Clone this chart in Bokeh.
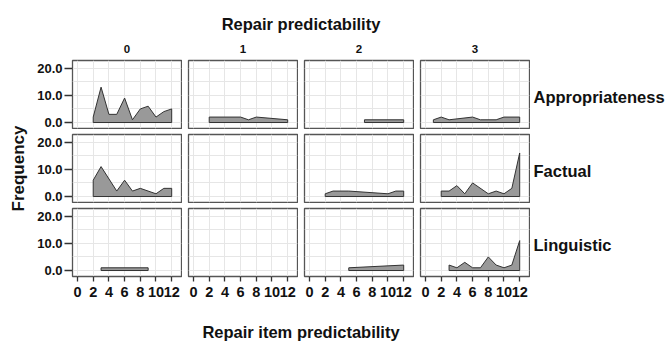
import math
from bokeh.plotting import figure
from bokeh.models import Range1d, FixedTicker, PrintfTickFormatter, Label
from bokeh.layouts import row, column
from bokeh.embed import file_html
from bokeh.resources import INLINE

# ---------------- data ----------------
col_labels = ["0", "1", "2", "3"]
row_labels = ["Appropriateness", "Factual", "Linguistic"]
x_title = "Repair item predictability"
col_title = "Repair predictability"
y_title = "Frequency"
x_ticks = [0, 2, 4, 6, 8, 10, 12]
y_ticks = [0, 10, 20]
y_grid_ticks = [0, 5, 10, 15, 20]

app0_x = [2, 3, 4, 5, 6, 7, 8, 9, 10, 11, 12]
app0_y = [2, 13, 3, 3, 9, 1, 5, 6, 2, 4, 5]
app1_x = [2, 6, 7, 8, 12]
app1_y = [2, 2, 1, 2, 1]
app2_x = [7, 12]
app2_y = [1, 1]
app3_x = [1, 2, 3, 6, 7, 9, 10, 12]
app3_y = [1, 2, 1, 2, 1, 1, 2, 2]

fac0_x = [2, 3, 5, 6, 7, 8, 10, 11, 12]
fac0_y = [6, 11, 2, 6, 2, 3, 1, 3, 3]
fac1_x = []
fac1_y = []
fac2_x = [2, 3, 5, 10, 11, 12]
fac2_y = [1, 2, 2, 1, 2, 2]
fac3_x = [2, 3, 4, 5, 6, 8, 9, 10, 11, 12]
fac3_y = [2, 2, 4, 1, 5, 1, 2, 1, 3, 16]

lin0_x = [3, 9]
lin0_y = [1, 1]
lin1_x = []
lin1_y = []
lin2_x = [5, 12]
lin2_y = [1, 2]
lin3_x = [3, 4, 5, 6, 7, 8, 9, 10, 11, 12]
lin3_y = [2, 1, 3, 1, 1, 5, 2, 1, 2, 11]

series = [
    [(app0_x, app0_y), (app1_x, app1_y), (app2_x, app2_y), (app3_x, app3_y)],
    [(fac0_x, fac0_y), (fac1_x, fac1_y), (fac2_x, fac2_y), (fac3_x, fac3_y)],
    [(lin0_x, lin0_y), (lin1_x, lin1_y), (lin2_x, lin2_y), (lin3_x, lin3_y)],
]

# ---------------- style / layout ----------------
FONT = "Liberation Sans"
FILL = "#999999"
EDGE = "#333333"
FRAME_COL = "#555555"
GRID_COL = "#e6e6e6"
TXT = "#111111"

LEFT_W = 28
AX_W = 44
FRAME_W = 109
GAP_L = 6
FRAME_H = 68
RIGHT_W = 136
HEADER_H = 59
BOTTOM_H = 35
X_AX_H = 30
TOTAL_W = LEFT_W + AX_W + 4 * FRAME_W + 3 * GAP_L + 4 + RIGHT_W

X_RANGE = (-0.64, 13.25)
Y_RANGE = (-2.2, 22.8)


def blank(width, height, yr=None, border_top=0, border_bottom=0):
    fh = height - border_top - border_bottom
    f = figure(frame_width=width, frame_height=fh, output_backend="svg",
               toolbar_location=None, title_location=None,
               x_axis_location=None, y_axis_location=None,
               x_range=Range1d(0, width),
               y_range=Range1d(*(yr if yr else (0, fh))),
               min_border=0, min_border_left=0, min_border_right=0,
               min_border_top=border_top, min_border_bottom=border_bottom)
    f.outline_line_color = None
    f.grid.visible = False
    return f


def panel(r, c, xs, ys):
    left = c == 0
    bottom = r == 2
    bl = AX_W if left else GAP_L
    br = 1
    bt = 1 if r == 0 else 5
    bb = X_AX_H if bottom else 1
    p = figure(frame_width=FRAME_W, frame_height=FRAME_H,
               output_backend="svg", toolbar_location=None, title_location=None,
               x_range=Range1d(*X_RANGE), y_range=Range1d(*Y_RANGE),
               x_axis_location="below" if bottom else None,
               y_axis_location="left" if left else None,
               min_border=0,
               min_border_left=bl, min_border_right=br,
               min_border_top=bt, min_border_bottom=bb)
    p.outline_line_color = FRAME_COL
    p.outline_line_width = 1.3
    p.xgrid.ticker = FixedTicker(ticks=x_ticks)
    p.ygrid.ticker = FixedTicker(ticks=y_grid_ticks)
    p.grid.grid_line_color = GRID_COL
    p.grid.grid_line_width = 1
    if bottom:
        ax = p.xaxis[0]
        ax.ticker = FixedTicker(ticks=x_ticks)
        ax.axis_line_color = None
        ax.major_tick_in = 0
        ax.major_tick_out = 5
        ax.major_tick_line_color = EDGE
        ax.major_tick_line_width = 1.3
        ax.minor_tick_line_color = None
        ax.major_label_standoff = 5
        ax.major_label_text_font = FONT
        ax.major_label_text_font_style = "bold"
        ax.major_label_text_font_size = "14.5px"
        ax.major_label_text_color = TXT
    if left:
        ay = p.yaxis[0]
        ay.ticker = FixedTicker(ticks=y_ticks)
        ay.formatter = PrintfTickFormatter(format="%.1f")
        ay.axis_line_color = None
        ay.major_tick_in = 0
        ay.major_tick_out = 8
        ay.major_tick_line_color = EDGE
        ay.major_tick_line_width = 1.3
        ay.minor_tick_line_color = None
        ay.major_label_standoff = 2
        ay.major_label_text_font = FONT
        ay.major_label_text_font_style = "bold"
        ay.major_label_text_font_size = "13px"
        ay.major_label_text_color = TXT
    if len(xs) > 0:
        px = list(xs) + [xs[-1], xs[0]]
        py = list(ys) + [0, 0]
        p.patch(px, py, fill_color=FILL, line_color=EDGE, line_width=1)
    return p


# header (y measured from the bottom of the header strip)
header = blank(TOTAL_W, HEADER_H)
frame0_left = LEFT_W + AX_W
frames_cx = frame0_left + (4 * FRAME_W + 3 * (GAP_L + 1)) / 2
header.add_layout(Label(x=frames_cx, y=HEADER_H - 23.5,
                        text=col_title, text_align="center", text_baseline="middle",
                        text_font=FONT, text_font_style="bold", text_font_size="16.5px",
                        text_color=TXT))
for i, lab in enumerate(col_labels):
    cx = frame0_left + FRAME_W / 2 + i * (FRAME_W + GAP_L + 1)
    header.add_layout(Label(x=cx, y=HEADER_H - 48.3, text=lab, text_align="center",
                            text_baseline="middle", text_font=FONT, text_font_style="bold",
                            text_font_size="11.5px", text_color=TXT))

rows = []
for r in range(3):
    figs = [panel(r, c, *series[r][c]) for c in range(4)]
    bt = 1 if r == 0 else 5
    bb = X_AX_H if r == 2 else 1
    lab_fig = blank(RIGHT_W, bt + FRAME_H + bb, yr=(0, 1), border_top=bt, border_bottom=bb)
    lab_fig.add_layout(Label(x=3, y=0.47, text=row_labels[r], text_align="left",
                             text_baseline="middle", text_font=FONT, text_font_style="bold",
                             text_font_size="16.5px", text_color=TXT))
    rows.append(row(*figs, lab_fig))

grid_h = (1 + FRAME_H + 1) + (5 + FRAME_H + 1) + (5 + FRAME_H + X_AX_H)
left_fig = blank(LEFT_W, grid_h)
frames_center_from_top = 1 + (FRAME_H * 3 + 12) / 2
left_fig.add_layout(Label(x=18.3, y=grid_h - frames_center_from_top, text=y_title,
                          angle=math.pi / 2, text_align="center", text_baseline="middle",
                          text_font=FONT, text_font_style="bold", text_font_size="17px",
                          text_color=TXT))

bottom_fig = blank(TOTAL_W, BOTTOM_H)
bottom_fig.add_layout(Label(x=frames_cx, y=10,
                            text=x_title, text_align="center", text_baseline="middle",
                            text_font=FONT, text_font_style="bold", text_font_size="16.5px",
                            text_color=TXT))

layout = column(header, row(left_fig, column(*rows)), bottom_fig)

open("out.html", "w").write(file_html(layout, INLINE))
